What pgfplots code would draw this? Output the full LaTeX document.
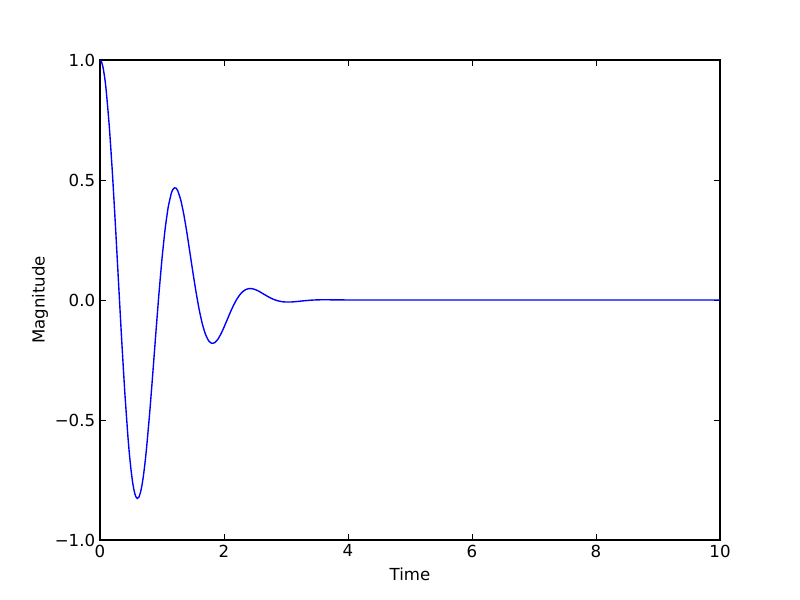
\documentclass[border=0pt]{standalone}
\usepackage{fontspec}
\setmainfont{DejaVu Sans}
\usepackage{pgfplots}
\pgfplotsset{compat=1.18}
\begin{document}
\begin{tikzpicture}
\path[use as bounding box] (0,0) rectangle (8in,6in);
\begin{axis}[
  at={(1in,0.6in)}, anchor=south west,
  scale only axis, width=6.2in, height=4.8in,
  xmin=0, xmax=10, ymin=-1, ymax=1,
  xtick={0,2,4,6,8,10}, xticklabels={0,2,4,6,8,10},
  ytick={-1,-0.5,0,0.5,1}, yticklabels={−1.0,−0.5,0.0,0.5,1.0},
  tick align=inside, major tick length=0.056in,
  tick style={black, line width=0.7pt},
  axis line style={black, line width=0.8pt},
  ticklabel style={font=\fontsize{12}{14}\selectfont},
  label style={font=\fontsize{12}{14}\selectfont},
  xlabel={Time}, ylabel={Magnitude},
  xlabel style={yshift=-1pt},
  ylabel style={yshift=-2pt},
]
\addplot[blue, line width=1pt, smooth, tension=0.3] coordinates {
(0.00,1.00000)(0.025,0.99189)(0.05,0.96770)(0.075,0.92790)(0.10,0.87321)(0.15,0.72350)(0.20,0.52960)
(0.25,0.30562)(0.30,0.06762)(0.35,-0.16766)(0.40,-0.38415)(0.45,-0.56769)(0.475,-0.64364)
(0.50,-0.70700)(0.525,-0.75757)(0.55,-0.79456)(0.575,-0.81769)(0.60,-0.82691)(0.625,-0.82246)(0.65,-0.80482)(0.675,-0.77468)(0.70,-0.73297)(0.725,-0.68078)
(0.75,-0.61939)(0.80,-0.47465)(0.85,-0.31092)(0.90,-0.14060)(0.95,0.02395)
(1.00,0.17205)(1.05,0.29508)(1.10,0.38699)(1.15,0.44451)(1.175,0.46022)(1.20,0.46736)(1.225,0.46632)
(1.25,0.45758)(1.30,0.41950)(1.35,0.35913)(1.40,0.28295)(1.45,0.19785)
(1.50,0.11253)(1.55,0.03177)(1.60,-0.04045)(1.65,-0.09940)(1.70,-0.14192)
(1.75,-0.16888)(1.80,-0.18031)(1.85,-0.17784)(1.90,-0.16401)(1.95,-0.14160)
(2.00,-0.11355)(2.05,-0.08299)(2.10,-0.05243)(2.15,-0.02422)(2.20,0.00039)
(2.25,0.02013)(2.30,0.03431)(2.35,0.04331)(2.40,0.04737)(2.45,0.04730)
(2.50,0.04384)(2.55,0.03808)(2.60,0.03090)(2.65,0.02315)(2.70,0.01554)
(2.75,0.00863)(2.80,0.00271)(2.85,-0.00194)(2.90,-0.00530)(2.95,-0.00743)
(3.00,-0.00844)(3.05,-0.00857)(3.10,-0.00801)(3.15,-0.00700)(3.20,-0.00572)
(3.25,-0.00436)(3.30,-0.00305)(3.35,-0.00187)(3.40,-0.00085)(3.45,-0.00007)
(3.50,0.00048)(3.60,0.00100)(3.80,0.00060)(4.00,0.00014)(4.50,0.00000)
(10.00,0.00000)
};
\end{axis}
\end{tikzpicture}
\end{document}
